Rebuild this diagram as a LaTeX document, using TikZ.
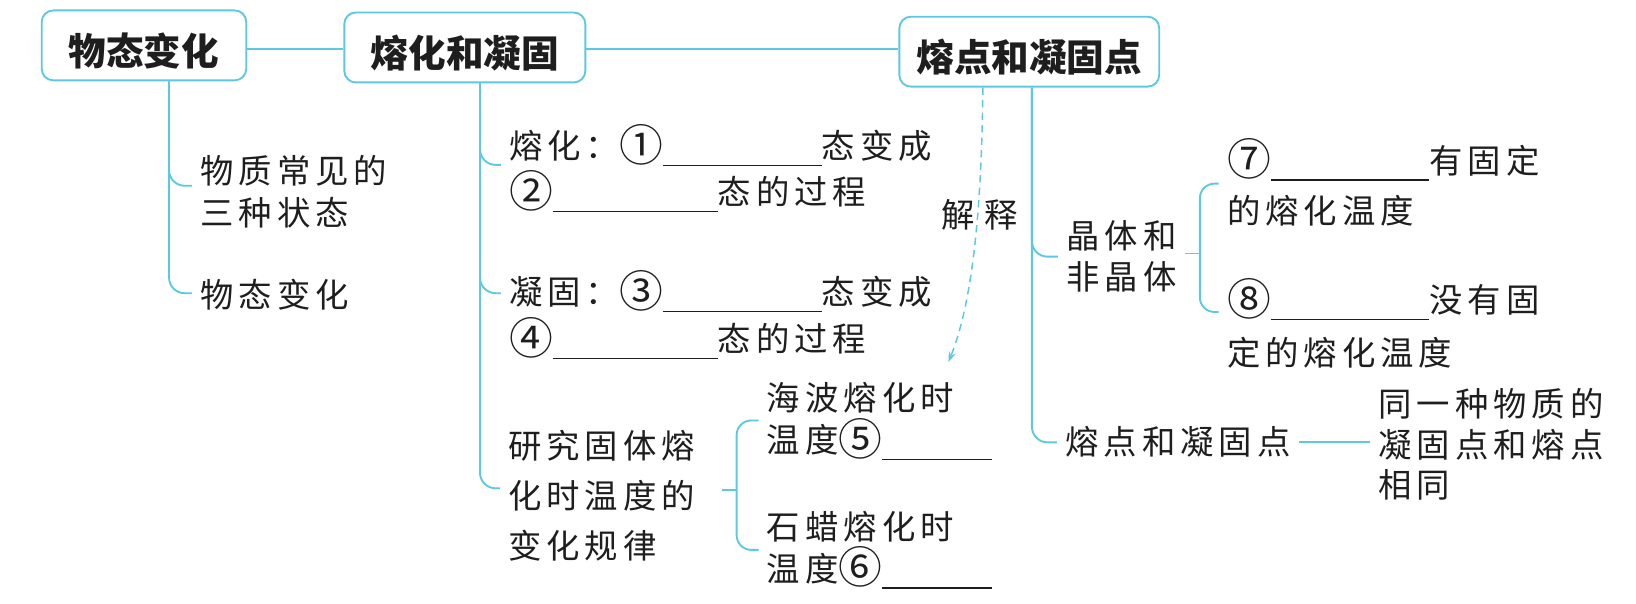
\documentclass[tikz,border=0pt]{standalone}
\usepackage{fontspec}
\setmainfont{Noto Sans CJK SC}
\newfontfamily\cjk[LetterSpace=15]{Noto Sans CJK SC}
\newfontfamily\cjkt{Noto Sans CJK SC}
\usetikzlibrary{arrows.meta}
\definecolor{linec}{RGB}{92,200,226}
\definecolor{textc}{RGB}{30,30,30}
\newcommand\blank[1]{\rule[-7pt]{#1pt}{1.4pt}}
\newcommand\cnum[1]{\smash{\raisebox{-2.5pt}{\fontsize{42}{42}\selectfont #1}}}
\begin{document}
\begin{tikzpicture}[x=1pt,y=-1pt,
  conn/.style={draw=linec, line width=1.8pt},
  branch/.style={conn, rounded corners=15pt},
  titlebox/.style={draw=linec, line width=1.8pt, rounded corners=11pt, fill=white,
    font=\cjkt\bfseries\fontsize{36}{36}\selectfont, text=textc, inner sep=0pt,
    text height=39pt, text depth=0pt},
  leaf/.style={anchor=north west, inner sep=0pt, outer xsep=8pt, outer ysep=0pt,
    align=left, text=textc, font=\cjk\fontsize{32}{#1}\selectfont},
  leaf/.default=44,
  dashedc/.style={draw=linec, line width=1.4pt, dash pattern=on 7pt off 5pt,
    -{Stealth[length=10pt,width=7pt]}},
]
\useasboundingbox (0,0) rectangle (1568,578);

% title boxes
\node[titlebox, minimum width=196pt, minimum height=67pt] (b1) at (138,43.5) {物态变化};
\node[titlebox, minimum width=231pt, minimum height=67pt] (b2) at (445.5,45.5) {熔化和凝固};
\node[titlebox, minimum width=249pt, minimum height=67pt] (b3) at (986.5,49.5) {熔点和凝固点};

% connectors between title boxes
\draw[conn] (b1.east |- 0,47.2) -- (b2.west |- 0,47.2);
\draw[conn] (b2.east |- 0,47.2) -- (b3.west |- 0,47.2);

% leaves of b1
\node[leaf=40] (l1a) at (184,149) {物质常见的\\三种状态};
\node[leaf] (l1b) at (184,268) {物态变化};

% leaves of b2
\node[leaf=44] (l2a) at (480,125) {熔化：\cnum{①}\blank{152}态变成\\\cnum{②}\blank{158}态的过程};
\node[leaf=45] (l2b) at (480,265) {凝固：\cnum{③}\blank{152}态变成\\\cnum{④}\blank{158}态的过程};
\node[leaf=48] (l2c) at (479,412) {研究固体熔\\化时温度的\\变化规律};
\node[leaf=41] (l2c1) at (727,366) {海波熔化时\\温度\cnum{⑤}\blank{105}};
\node[leaf=40] (l2c2) at (727,490) {石蜡熔化时\\温度\cnum{⑥}\blank{105}};

% leaves of b3
\node[leaf=40] (l3a) at (1014,211) {晶体和\\非晶体};
\node[leaf=48] (l3a1) at (1168,139) {\cnum{⑦}\blank{152}有固定\\的熔化温度};
\node[leaf=50] (l3a2) at (1168,273) {\cnum{⑧}\blank{152}没有固\\定的熔化温度};
\node[leaf] (l3b) at (1013,409) {熔点和凝固点};
\node[leaf=39] (l3b1) at (1313,372) {同一种物质的\\凝固点和熔点\\相同};

% trunk 1
\draw[branch] (b1.south -| 162,0) -- (162,281) -- (l1b.west |- 0,281);
\draw[branch] (b1.south -| 162,0) -- (162,178) -- (l1a.west |- 0,178);

% trunk 2
\draw[branch] (b2.south -| 460,0) -- (460,468) -- (l2c.west |- 0,468);
\draw[branch] (b2.south -| 460,0) -- (460,158) -- (l2a.west |- 0,158);
\draw[branch] (b2.south -| 460,0) -- (460,281) -- (l2b.west |- 0,281);

% bracket for l2c
\coordinate (k2) at (706,470);
\draw[conn] (k2) -- ++(-14,0);
\draw[conn, rounded corners=14pt] (l2c1.west |- 0,403) -| (k2) |- (l2c2.west |- 0,527);

% trunk 3
\draw[branch] (b3.south -| 989,0) -- (989,424) -- (l3b.west |- 0,424);
\draw[branch] (b3.south -| 989,0) -- (989,246) -- (l3a.west |- 0,246);

% bracket for l3a
\coordinate (k3) at (1150,243);
\draw[conn] (k3) -- ++(-14,0);
\draw[conn, rounded corners=14pt] (l3a1.west |- 0,176) -| (k3) |- (l3a2.west |- 0,299);

% l3b -- l3b1
\draw[conn] (l3b.east) -- (l3b.east -| l3b1.west);

% dashed explanation arrow
\coordinate (ex) at (909,347);
\draw[dashedc] (b3.south -| 942,0) .. controls (941,200) and (932,290) .. (ex);
\node[font=\cjk\fontsize{32}{32}\selectfont, text=textc, inner sep=0pt] (jy) at (939,206) {解\hspace{9pt}释};
\end{tikzpicture}
\end{document}
